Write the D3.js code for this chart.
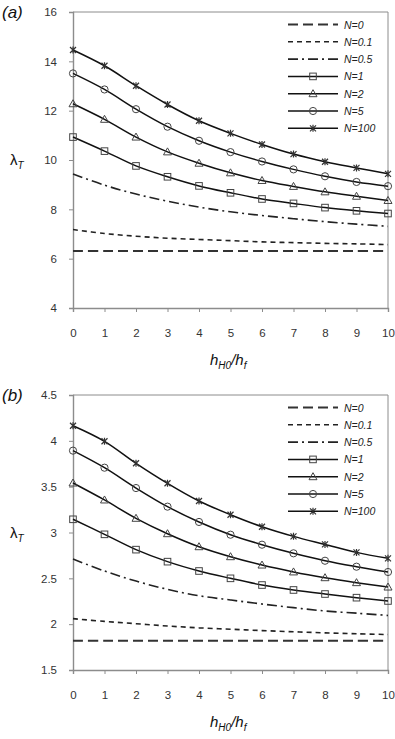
<!DOCTYPE html>
<html>
<head>
  <meta charset="UTF-8">
  <title>lambda_T vs hH0/hf</title>
  <script src="https://d3js.org/d3.v7.min.js"></script>
  <style>
    body { margin: 0; background: #fff; }
    svg { display: block; }
  </style>
</head>
<body>
  <div class="canvas"></div>
  <script>
    // x values (hH0/hf)
    const hRatio = [0, 1, 2, 3, 4, 5, 6, 7, 8, 9, 10];
    const nLabels = ['N=0', 'N=0.1', 'N=0.5', 'N=1', 'N=2', 'N=5', 'N=100'];

    // panel (a)
    const aN0   = [6.31, 6.31, 6.31, 6.31, 6.31, 6.31, 6.31, 6.31, 6.31, 6.31, 6.31];
    const aN01  = [7.18, 7.02, 6.91, 6.83, 6.78, 6.73, 6.68, 6.65, 6.62, 6.60, 6.57];
    const aN05  = [9.43, 8.98, 8.62, 8.33, 8.09, 7.90, 7.75, 7.62, 7.50, 7.40, 7.31];
    const aN1   = [10.93, 10.36, 9.76, 9.32, 8.95, 8.67, 8.42, 8.24, 8.07, 7.94, 7.83];
    const aN2   = [12.28, 11.65, 10.93, 10.33, 9.87, 9.48, 9.17, 8.93, 8.71, 8.53, 8.36];
    const aN5   = [13.51, 12.86, 12.06, 11.35, 10.78, 10.32, 9.94, 9.62, 9.34, 9.11, 8.94];
    const aN100 = [14.46, 13.82, 13.01, 12.25, 11.59, 11.08, 10.63, 10.24, 9.93, 9.68, 9.44];
    const aTicks = [4, 6, 8, 10, 12, 14, 16];

    // panel (b)
    const bN0   = [1.82, 1.82, 1.82, 1.82, 1.82, 1.82, 1.82, 1.82, 1.82, 1.82, 1.82];
    const bN01  = [2.06, 2.03, 2.005, 1.98, 1.96, 1.945, 1.93, 1.917, 1.905, 1.895, 1.887];
    const bN05  = [2.71, 2.58, 2.47, 2.38, 2.31, 2.264, 2.22, 2.18, 2.144, 2.12, 2.095];
    const bN1   = [3.144, 2.98, 2.813, 2.682, 2.58, 2.5, 2.427, 2.373, 2.329, 2.289, 2.253];
    const bN2   = [3.54, 3.355, 3.155, 2.987, 2.845, 2.736, 2.645, 2.57, 2.507, 2.453, 2.405];
    const bN5   = [3.893, 3.707, 3.485, 3.282, 3.115, 2.976, 2.867, 2.773, 2.692, 2.627, 2.569];
    const bN100 = [4.165, 3.995, 3.755, 3.537, 3.344, 3.194, 3.063, 2.958, 2.87, 2.783, 2.718];
    const bTicks = [1.5, 2, 2.5, 3, 3.5, 4, 4.5];

    // line style per series
    const styles = [
      { dash: '10,5', width: 2, color: '#333', marker: null },
      { dash: '5,4', width: 1.6, color: '#222', marker: null },
      { dash: '10,4,2,4', width: 1.6, color: '#222', marker: null },
      { dash: null, width: 1.5, color: '#111', marker: 'square' },
      { dash: null, width: 1.5, color: '#111', marker: 'triangle' },
      { dash: null, width: 1.5, color: '#111', marker: 'circle' },
      { dash: null, width: 1.5, color: '#111', marker: 'star' }
    ];

    const width = 395;
    const height = 739;
    const [ml, mr] = [73, 7];
    const graphWidth = width - ml - mr;

    const svg = d3.select('.canvas')
                  .append('svg')
                  .attr('width', width)
                  .attr('height', height)
                  .style('font-family', '"Liberation Sans", Arial, sans-serif');

    const x = d3.scaleLinear().domain([0, 10]).range([0, graphWidth]);

    function drawMarker(g, type, cx, cy) {
      const s = g.append('g').attr('transform', `translate(${cx},${cy})`)
                 .attr('fill', 'none').attr('stroke', '#444').attr('stroke-width', 1);
      if (type === 'square') {
        s.append('rect').attr('x', -3.3).attr('y', -3.3).attr('width', 6.6).attr('height', 6.6);
      } else if (type === 'triangle') {
        s.append('path').attr('d', 'M0,-4L4,3L-4,3Z');
      } else if (type === 'circle') {
        s.append('circle').attr('r', 3.6);
      } else if (type === 'star') {
        s.append('path').attr('d', 'M-3,-3L3,3M-3,3L3,-3M0,-3.5L0,3.5')
         .attr('stroke-width', 1.2).attr('stroke', '#333');
      }
    }

    function drawPanel(cfg) {
      const graphHeight = cfg.bottom - cfg.top;
      const y = d3.scaleLinear().domain(cfg.domain).range([graphHeight, 0]);

      const graph = svg.append('g')
                       .attr('transform', `translate(${ml}, ${cfg.top})`);

      // plot border (top + right)
      graph.append('path')
           .attr('d', `M0,0H${graphWidth}V${graphHeight}`)
           .attr('fill', 'none')
           .attr('stroke', '#8c8c8c')
           .attr('stroke-width', 1);

      // axes
      const xAxisG = graph.append('g')
                          .attr('transform', `translate(0, ${graphHeight})`)
                          .call(d3.axisBottom(x).tickValues(hRatio).tickSize(4).tickPadding(17)
                                  .tickFormat(d3.format('d')));
      const yAxisG = graph.append('g')
                          .call(d3.axisLeft(y).tickValues(cfg.ticks).tickSize(4).tickPadding(12)
                                  .tickFormat(d => d));
      [xAxisG, yAxisG].forEach(a => {
        a.select('.domain').attr('stroke', '#8c8c8c').attr('stroke-width', 1.4);
        a.selectAll('.tick line').attr('stroke', '#8c8c8c');
        a.selectAll('.tick text').attr('fill', '#333').style('font-size', '11.5px')
         .style('font-family', '"Liberation Sans", Arial, sans-serif');
      });

      const line = d3.line()
                     .x((d, i) => x(hRatio[i]))
                     .y(d => y(d))
                     .curve(d3.curveCatmullRom);

      cfg.series.forEach((vals, k) => {
        const st = styles[k];
        graph.append('path')
             .attr('fill', 'none')
             .attr('stroke', st.color)
             .attr('stroke-width', st.width)
             .attr('stroke-dasharray', st.dash)
             .attr('d', line(vals));
        if (st.marker) {
          vals.forEach((v, i) => drawMarker(graph, st.marker, x(hRatio[i]), y(v)));
        }
      });

      // legend
      const legend = svg.append('g')
                        .attr('transform', `translate(288, ${cfg.top + 12.5})`);
      nLabels.forEach((lab, k) => {
        const st = styles[k];
        const ly = k * 17.3;
        legend.append('line')
              .attr('x1', 0).attr('x2', 50).attr('y1', ly).attr('y2', ly)
              .attr('stroke', st.color)
              .attr('stroke-width', st.width)
              .attr('stroke-dasharray', st.dash);
        if (st.marker) drawMarker(legend, st.marker, 25, ly);
        legend.append('text')
              .attr('x', 56).attr('y', ly + 4)
              .style('font-size', '10.5px')
              .style('font-style', 'italic')
              .attr('fill', '#222')
              .text(lab);
      });

      // panel label
      svg.append('text')
         .attr('x', 2).attr('y', cfg.top + 6)
         .style('font-size', '17px').style('font-style', 'italic')
         .attr('fill', '#111')
         .text(cfg.label);

      // y title
      const yt = svg.append('text')
                    .attr('x', 10).attr('y', cfg.top + y(cfg.ytitleAt) + 5)
                    .style('font-size', '15px')
                    .attr('fill', '#111');
      yt.append('tspan').text('λ');
      yt.append('tspan').attr('dy', 4).style('font-size', '10px').style('font-style', 'italic').text('T');

      // x title
      const xt = svg.append('text')
                    .attr('x', 210).attr('y', cfg.bottom + 57)
                    .style('font-size', '15px').style('font-style', 'italic')
                    .attr('fill', '#111');
      xt.append('tspan').text('h');
      xt.append('tspan').attr('dy', 4).style('font-size', '10px').text('H0');
      xt.append('tspan').attr('dy', -4).text('/h');
      xt.append('tspan').attr('dy', 4).style('font-size', '10px').text('f');
    }

    drawPanel({
      label: '(a)', top: 12, bottom: 308, domain: [4, 16], ticks: aTicks, ytitleAt: 10,
      series: [aN0, aN01, aN05, aN1, aN2, aN5, aN100]
    });
    drawPanel({
      label: '(b)', top: 395, bottom: 670, domain: [1.5, 4.5], ticks: bTicks, ytitleAt: 3,
      series: [bN0, bN01, bN05, bN1, bN2, bN5, bN100]
    });
  </script>
</body>
</html>
